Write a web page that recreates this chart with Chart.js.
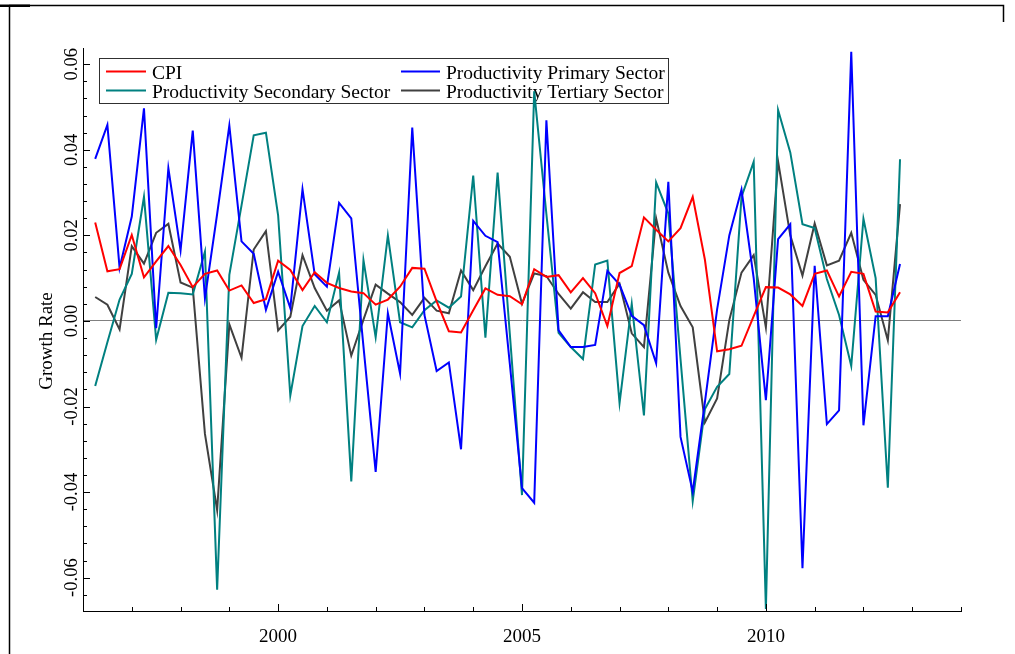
<!DOCTYPE html>
<html>
<head>
<meta charset="utf-8">
<script src="https://cdn.jsdelivr.net/npm/chart.js@4.4.1/dist/chart.umd.min.js"></script>
<style>
  html, body { margin: 0; padding: 0; background: #ffffff; }
  canvas { display: block; }
</style>
</head>
<body>
<canvas id="growth" width="1015" height="654"></canvas>
<script>
// Quarterly observations, 1996Q2 - 2012Q4
const quarters = [
  '1996Q2','1996Q3','1996Q4',
  '1997Q1','1997Q2','1997Q3','1997Q4',
  '1998Q1','1998Q2','1998Q3','1998Q4',
  '1999Q1','1999Q2','1999Q3','1999Q4',
  '2000Q1','2000Q2','2000Q3','2000Q4',
  '2001Q1','2001Q2','2001Q3','2001Q4',
  '2002Q1','2002Q2','2002Q3','2002Q4',
  '2003Q1','2003Q2','2003Q3','2003Q4',
  '2004Q1','2004Q2','2004Q3','2004Q4',
  '2005Q1','2005Q2','2005Q3','2005Q4',
  '2006Q1','2006Q2','2006Q3','2006Q4',
  '2007Q1','2007Q2','2007Q3','2007Q4',
  '2008Q1','2008Q2','2008Q3','2008Q4',
  '2009Q1','2009Q2','2009Q3','2009Q4',
  '2010Q1','2010Q2','2010Q3','2010Q4',
  '2011Q1','2011Q2','2011Q3','2011Q4',
  '2012Q1','2012Q2','2012Q3','2012Q4'
];

const cpi = [
  0.0230, 0.0116, 0.0121, 0.0201, 0.0102, 0.0139, 0.0175, 0.0131, 0.0079, 0.0110,
  0.0118, 0.0071, 0.0083, 0.0042, 0.0051, 0.0141, 0.0119, 0.0072, 0.0114, 0.0089,
  0.0077, 0.0069, 0.0065, 0.0038, 0.0050, 0.0080, 0.0124, 0.0122, 0.0046, -0.0024,
  -0.0027, 0.0025, 0.0076, 0.0061, 0.0058, 0.0039, 0.0121, 0.0103, 0.0107, 0.0067,
  0.0100, 0.0065, -0.0012, 0.0112, 0.0128, 0.0242, 0.0213, 0.0186, 0.0217, 0.0290,
  0.0143, -0.0071, -0.0066, -0.0058, 0.0011, 0.0079, 0.0078, 0.0062, 0.0035, 0.0110,
  0.0118, 0.0057, 0.0115, 0.0110, 0.0022, 0.0020, 0.0067
];

const primarySector = [
  0.0379, 0.0458, 0.0124, 0.0244, 0.0497, -0.0017, 0.0357, 0.0165, 0.0445, 0.0053,
  0.0250, 0.0457, 0.0186, 0.0157, 0.0026, 0.0115, 0.0030, 0.0308, 0.0109, 0.0080,
  0.0276, 0.0240, -0.0060, -0.0353, 0.0018, -0.0123, 0.0452, 0.0014, -0.0117, -0.0097,
  -0.0300, 0.0234, 0.0199, 0.0184, -0.0100, -0.0391, -0.0425, 0.0469, -0.0022, -0.0061,
  -0.0061, -0.0056, 0.0117, 0.0085, 0.0012, -0.0010, -0.0099, 0.0325, -0.0271, -0.0399,
  -0.0190, 0.0027, 0.0200, 0.0307, 0.0100, -0.0185, 0.0191, 0.0226, -0.0578, 0.0129,
  -0.0241, -0.0209, 0.0629, -0.0244, 0.0011, 0.0011, 0.0133
];

const secondarySector = [
  -0.0152, -0.0050, 0.0050, 0.0110, 0.0290, -0.0044, 0.0066, 0.0065, 0.0062, 0.0162,
  -0.0628, 0.0108, 0.0270, 0.0434, 0.0440, 0.0247, -0.0174, -0.0012, 0.0035, -0.0003,
  0.0113, -0.0375, 0.0142, -0.0038, 0.0200, -0.0003, -0.0015, 0.0025, 0.0048, 0.0031,
  0.0057, 0.0340, -0.0039, 0.0347, -0.0030, -0.0407, 0.0537, 0.0250, -0.0028, -0.0061,
  -0.0089, 0.0132, 0.0141, -0.0192, 0.0040, -0.0221, 0.0324, 0.0251, -0.0090, -0.0421,
  -0.0206, -0.0154, -0.0124, 0.0290, 0.0372, -0.0673, 0.0493, 0.0394, 0.0226, 0.0217,
  0.0098, 0.0014, -0.0105, 0.0239, 0.0100, -0.0390, 0.0378
];

const tertiarySector = [
  0.0056, 0.0038, -0.0020, 0.0175, 0.0134, 0.0206, 0.0227, 0.0090, 0.0078, -0.0264,
  -0.0442, -0.0008, -0.0086, 0.0167, 0.0210, -0.0022, 0.0010, 0.0154, 0.0077, 0.0024,
  0.0048, -0.0081, 0.0003, 0.0085, 0.0064, 0.0044, 0.0014, 0.0054, 0.0024, 0.0018,
  0.0118, 0.0072, 0.0128, 0.0181, 0.0150, 0.0040, 0.0111, 0.0105, 0.0063, 0.0029,
  0.0067, 0.0044, 0.0044, 0.0087, -0.0029, -0.0061, 0.0240, 0.0113, 0.0035, -0.0015,
  -0.0237, -0.0181, 0.0002, 0.0113, 0.0154, -0.0015, 0.0373, 0.0200, 0.0106, 0.0228,
  0.0130, 0.0141, 0.0206, 0.0096, 0.0061, -0.0045, 0.0273
];

// Axis ticks and labels
const xTickYears = [1996, 1997, 1998, 1999, 2000, 2001, 2002, 2003, 2004, 2005,
                    2006, 2007, 2008, 2009, 2010, 2011, 2012, 2013, 2014];
const xLabelYears = [2000, 2005, 2010];
const yLabelValues = [0.06, 0.04, 0.02, 0.00, -0.02, -0.04, -0.06];
const yTickLabels = ['0.06', '0.04', '0.02', '0.00', '-0.02', '-0.04', '-0.06'];
const yMinorStep = 0.004;

const seriesNames = ['CPI', 'Productivity Primary Sector',
                     'Productivity Secondary Sector', 'Productivity Tertiary Sector'];
const seriesColors = ['#ff0000', '#0000ff', '#008080', '#404040'];

const SERIF = '"Liberation Serif", "Times New Roman", Times, serif';

function quarterToYear(q) {
  const year = parseInt(q.slice(0, 4), 10);
  const qn = parseInt(q.slice(5), 10);
  return year + (qn - 1) / 4;
}
function toPoints(values) {
  return quarters.map((q, i) => ({ x: quarterToYear(q), y: values[i] }));
}

// Inward tick marks, tick labels, axis title and legend box
const decorations = {
  id: 'decorations',
  beforeDatasetsDraw(chart) {
    const { ctx } = chart;
    ctx.save();
    // legend box (series lines pass over it)
    const box = { l: 99.5, t: 58.5, r: 668.5, b: 103.5 };
    ctx.strokeStyle = '#303030';
    ctx.lineWidth = 1;
    ctx.strokeRect(box.l, box.t, box.r - box.l, box.b - box.t);
    const cols = [{ lx0: 106, lx1: 146, tx: 152 }, { lx0: 401, lx1: 440, tx: 446 }];
    const rows = [{ ly: 71.5, ty: 79 }, { ly: 90.5, ty: 98 }];
    const order = [[0, 0, 0], [1, 1, 0], [2, 0, 1], [3, 1, 1]];
    ctx.font = '19.5px ' + SERIF;
    ctx.textBaseline = 'alphabetic';
    ctx.textAlign = 'left';
    order.forEach(([s, c, r]) => {
      ctx.strokeStyle = seriesColors[s];
      ctx.lineWidth = 2;
      ctx.beginPath();
      ctx.moveTo(cols[c].lx0, rows[r].ly);
      ctx.lineTo(cols[c].lx1, rows[r].ly);
      ctx.stroke();
      ctx.fillStyle = '#000000';
      ctx.fillText(seriesNames[s], cols[c].tx, rows[r].ty);
    });
    ctx.restore();
  },
  afterDraw(chart) {
    const { ctx, chartArea: a, scales: { x, y } } = chart;
    ctx.save();
    ctx.strokeStyle = '#000000';
    ctx.lineWidth = 1;
    // x ticks pointing up into the plot
    xTickYears.forEach(yr => {
      const px = Math.round(x.getPixelForValue(yr)) + 0.5;
      const len = xLabelYears.includes(yr) ? 7 : 4;
      ctx.beginPath();
      ctx.moveTo(px, a.bottom);
      ctx.lineTo(px, a.bottom - len);
      ctx.stroke();
    });
    // y ticks pointing right into the plot
    for (let k = -16; k <= 16; k++) {
      const v = k * yMinorStep;
      if (v < y.min || v > y.max) continue;
      const py = Math.round(y.getPixelForValue(v)) + 0.5;
      const major = Math.abs(v / 0.02 - Math.round(v / 0.02)) < 1e-6;
      ctx.beginPath();
      ctx.moveTo(a.left, py);
      ctx.lineTo(a.left + (major ? 7 : 4), py);
      ctx.stroke();
    }
    ctx.fillStyle = '#000000';
    // x labels
    ctx.font = '19px ' + SERIF;
    ctx.textAlign = 'center';
    ctx.textBaseline = 'alphabetic';
    xLabelYears.forEach(yr => {
      ctx.fillText(String(yr), x.getPixelForValue(yr), 642);
    });
    // y labels, rotated
    ctx.font = '18.5px ' + SERIF;
    yLabelValues.forEach((v, i) => {
      ctx.save();
      ctx.translate(77, y.getPixelForValue(v));
      ctx.rotate(-Math.PI / 2);
      ctx.textAlign = 'center';
      ctx.fillText(yTickLabels[i], 0, 0);
      ctx.restore();
    });
    // y axis title
    ctx.font = '19px ' + SERIF;
    ctx.save();
    ctx.translate(52, 341);
    ctx.rotate(-Math.PI / 2);
    ctx.textAlign = 'center';
    ctx.fillText('Growth Rate', 0, 0);
    ctx.restore();
    // outer frame
    ctx.fillRect(0, 4.5, 30, 2.5);
    ctx.beginPath();
    ctx.moveTo(9.5, 5.5);
    ctx.lineTo(9.5, 654);
    ctx.moveTo(9, 5.5);
    ctx.lineTo(1003.5, 5.5);
    ctx.lineTo(1003.5, 22);
    ctx.lineWidth = 1.5;
    ctx.stroke();
    ctx.restore();
  }
};

new Chart(document.getElementById('growth'), {
  type: 'line',
  data: {
    datasets: [
      { label: seriesNames[0], data: toPoints(cpi), borderColor: seriesColors[0] },
      { label: seriesNames[1], data: toPoints(primarySector), borderColor: seriesColors[1] },
      { label: seriesNames[2], data: toPoints(secondarySector), borderColor: seriesColors[2] },
      { label: seriesNames[3], data: toPoints(tertiarySector), borderColor: seriesColors[3] }
    ]
  },
  options: {
    responsive: false,
    animation: false,
    devicePixelRatio: 1,
    layout: { padding: { left: 0, top: 48, right: 54, bottom: 0 } },
    elements: {
      line: { borderWidth: 2, tension: 0, fill: false },
      point: { radius: 0, hoverRadius: 0 }
    },
    plugins: { legend: { display: false }, tooltip: { enabled: false } },
    scales: {
      x: {
        type: 'linear', min: 1996, max: 2014,
        ticks: { display: false },
        grid: { display: false },
        border: { display: true, color: '#000000', width: 1 },
        afterFit(s) { s.height = 43; }
      },
      y: {
        type: 'linear', min: -0.0678, max: 0.0638,
        ticks: { display: false, stepSize: yMinorStep },
        grid: {
          drawTicks: false,
          lineWidth: 1,
          color: c => (c.tick && Math.abs(c.tick.value) < 1e-9) ? '#808080' : 'rgba(0,0,0,0)'
        },
        border: { display: true, color: '#000000', width: 1 },
        afterFit(s) { s.width = 83; }
      }
    }
  },
  plugins: [decorations]
});
</script>
</body>
</html>
